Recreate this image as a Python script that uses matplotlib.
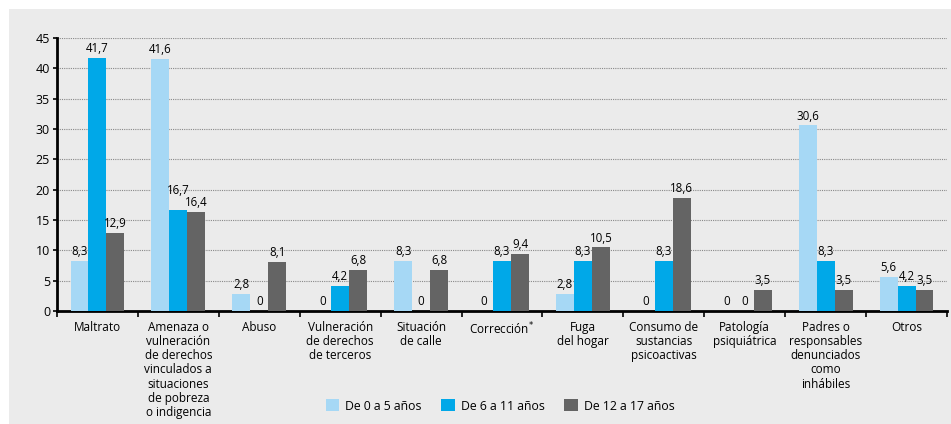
import matplotlib.pyplot as plt
import numpy as np
from matplotlib.patches import Rectangle

plt.rcParams['font.family'] = ['Open Sans', 'DejaVu Sans']

categorias = ['Maltrato',
              'Amenaza o\nvulneración\nde derechos\nvinculados a\nsituaciones\nde pobreza\no indigencia',
              'Abuso',
              'Vulneración\nde derechos\nde terceros',
              'Situación\nde calle',
              'Corrección$^{*}$',
              'Fuga\ndel hogar',
              'Consumo de\nsustancias\npsicoactivas',
              'Patología\npsiquiátrica',
              'Padres o\nresponsables\ndenunciados\ncomo\ninhábiles',
              'Otros']
series = ['De 0 a 5 años', 'De 6 a 11 años', 'De 12 a 17 años']
de_0_5 = [8.3, 41.6, 2.8, 0, 8.3, 0, 2.8, 0, 0, 30.6, 5.6]
de_6_11 = [41.7, 16.7, 0, 4.2, 0, 8.3, 8.3, 8.3, 0, 8.3, 4.2]
de_12_17 = [12.9, 16.4, 8.1, 6.8, 6.8, 9.4, 10.5, 18.6, 3.5, 3.5, 3.5]
colores = ['#a6d8f5', '#00a8e8', '#646464']

fig = plt.figure(figsize=(9.51, 4.24), dpi=100)
fig.patches.append(Rectangle((9/951, 0), 1, 1 - 9/424, transform=fig.transFigure,
                             facecolor='#ebebeb', edgecolor='none', zorder=-1))
ax = fig.add_axes([57/951, 1 - 311/424, 890/951, 273/424])
ax.set_facecolor('none')

datos = [de_0_5, de_6_11, de_12_17]
x = np.arange(len(categorias))
w = 0.222
for i, (vals, c, s) in enumerate(zip(datos, colores, series)):
    pos = x + (i - 1) * w
    ax.bar(pos, vals, width=w, color=c, label=s, zorder=3)
    for j, (p, v) in enumerate(zip(pos, vals)):
        txt = ('%.1f' % v).replace('.', ',') if v != 0 else '0'
        dy = 2
        # subir la etiqueta si choca con la de la barra vecina
        if i < 2 and v > 0 and abs(datos[i + 1][j] - v) < 0.5:
            dy = 9
        ax.annotate(txt, (p, v), xytext=(0, dy), textcoords='offset points',
                    ha='center', va='bottom', fontsize=8.3, zorder=4)

ax.set_xlim(-0.5, len(categorias) - 0.5)
ax.set_ylim(0, 45)
ax.set_yticks(np.arange(0, 46, 5))
ax.yaxis.grid(True, linestyle=(0, (1, 1)), color='#888888', linewidth=0.8, zorder=0)
ax.set_xticks(x)
ax.set_xticklabels(categorias, fontsize=8.5, linespacing=1.12)
ax.tick_params(axis='x', which='major', length=0, pad=7)
ax.set_xticks(np.arange(-0.5, len(categorias)), minor=True)
ax.tick_params(axis='x', which='minor', length=4, width=1.2, direction='out')
ax.tick_params(axis='y', labelsize=9, length=3, width=1.2, pad=2)
for s in ['top', 'right']:
    ax.spines[s].set_visible(False)
ax.spines['left'].set_linewidth(2)
ax.spines['bottom'].set_linewidth(2)

fig.legend(loc='center', bbox_to_anchor=(500/951, 1 - 406/424), ncol=3, frameon=False,
           fontsize=8.8, handlelength=1.1, handleheight=1.1, columnspacing=1.6, handletextpad=0.5)

fig.savefig('out.png', dpi=100)
